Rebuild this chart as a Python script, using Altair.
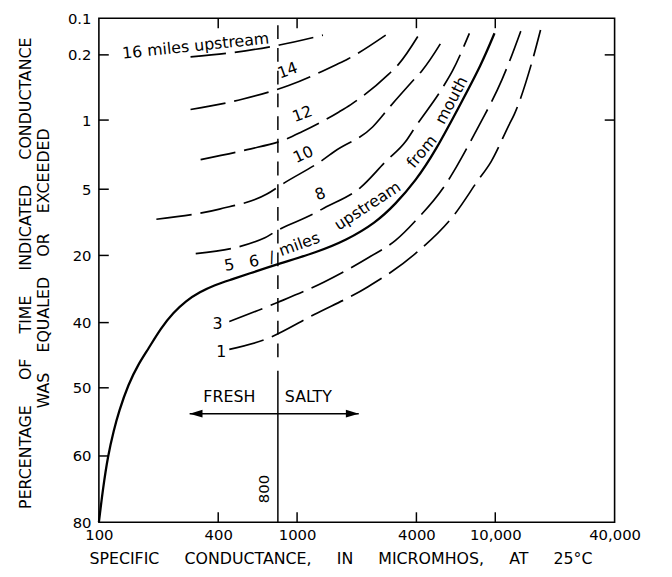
import altair as alt
import pandas as pd

# ---------------- axis ticks ----------------
x_ticks = [100, 400, 1000, 4000, 10000, 40000]
x_tick_labels = ["100", "400", "1000", "4000", "10,000", "40,000"]
y_ticks = [0.1, 0.2, 1, 5, 20, 40, 50, 60, 80]
y_tick_labels = ["0.1", "0.2", "1", "5", "20", "40", "50", "60", "80"]

# inward frame ticks
left_ticks = [0.2, 1, 5, 20, 40, 50, 60]
right_ticks = [0.2, 1]
top_ticks = [400, 1000, 4000, 10000]
bottom_ticks = [400, 1000, 4000, 10000]

# ---------------- curves (specific conductance, percent of time) ----------------
c16_x = [290, 455, 815, 1350]
c16_y = [0.225, 0.195, 0.173, 0.146]

c14_x = [290, 528, 906, 1574, 1804, 2800]
c14_y = [0.87, 0.745, 0.576, 0.32, 0.25, 0.146]

c12_x = [326, 560, 886, 1052, 1627, 1867, 2890, 3240, 4170]
c12_y = [3.29, 2.71, 2.09, 1.69, 0.90, 0.81, 0.44, 0.32, 0.14]

c10_x = [195, 406, 704, 855, 1354, 1537, 2404, 2955, 3848, 4267, 5576]
c10_y = [11.8, 9.5, 6.1, 4.66, 3.29, 2.83, 1.40, 0.83, 0.515, 0.394, 0.149]

c8_x = [308, 688, 790, 1207, 1370, 2094, 2797, 3520, 3949, 5430, 6090, 7400]
c8_y = [19.6, 16.0, 14.4, 10.6, 9.25, 4.89, 3.4, 2.26, 1.40, 0.60, 0.394, 0.141]

c56_x = [100, 105, 111, 119, 126, 141, 158, 177, 206, 237, 275, 323, 383, 471, 560, 817,
         1251, 1766, 2493, 3138, 3949, 4970, 6752, 8500, 9908]
c56_y = [80, 69.6, 60, 56.2, 53.5, 49.4, 46.4, 44.1, 40.8, 37.1, 33.5, 30.9, 28.8, 27.1,
         25.6, 22.4, 19.3, 16.6, 12.6, 8.36, 4.54, 2.83, 0.78, 0.321, 0.141]

c3_x = [455, 790, 1370, 2296, 3138, 3949, 5750, 6377, 8300, 8832, 10810, 11450, 13450]
c3_y = [39.7, 34.1, 27.9, 20.6, 16.6, 12.2, 4.54, 3.69, 1.29, 0.94, 0.503, 0.358, 0.135]

c1_x = [455, 688, 1221, 2270, 3949, 6255, 8120, 9530, 11720, 12470, 15260, 16920]
c1_y = [44.1, 42.6, 37.6, 29.4, 19.6, 10.6, 4.54, 3.4, 1.29, 0.93, 0.30, 0.132]

# fresh / salty boundary
boundary = 800
boundary_dash_y = [0.119, 45.3]
boundary_solid_y = [47.4, 80]
arrow_x = [287, 2047]
arrow_y = 53.8

# labels
lab_text = ["16 miles upstream", "14", "12", "10", "8", "5", "6", "/", "miles",
            "upstream", "from", "mouth", "3", "1"]
lab_x = [308, 896, 1064, 1076, 1308, 455, 606, 745, 1028, 2270, 4267, 6020, 397, 415]
lab_y = [0.176, 0.394, 0.927, 3.0, 6.1, 22.9, 21.8, 20.6, 17.5, 8.8, 2.83, 0.758, 40.3, 44.5]
lab_angle = [354, 340, 340, 335, 340, 350, 350, 345, 340, 327, 310, 298, 0, 0]

fs_text = ["FRESH", "SALTY"]
fs_x = [455, 1140]
fs_y = [51.3, 51.3]

GAP = "\u00a0" * 5
x_title = GAP.join(["SPECIFIC", "CONDUCTANCE,", "IN", "MICROMHOS,", "AT", "25°C"])
y_title_1 = GAP.join(["PERCENTAGE", "OF", "TIME", "INDICATED", "CONDUCTANCE"])
y_title_2 = ("\u00a0" * 4).join(["WAS", "EQUALED", "OR", "EXCEEDED"])

# ---------------- build tables ----------------
series = [("16", c16_x, c16_y), ("14", c14_x, c14_y), ("12", c12_x, c12_y),
          ("10", c10_x, c10_y), ("8", c8_x, c8_y), ("3", c3_x, c3_y), ("1", c1_x, c1_y)]
rows = []
for name, xs, ys in series:
    for a, b in zip(xs, ys):
        rows.append({"series": name, "x": a, "y": b})
dashed_df = pd.DataFrame(rows)
solid_df = pd.DataFrame({"x": c56_x, "y": c56_y})

FONT = "DejaVu Sans"


def expr_map(vals, labels):
    parts = " : ".join(f"datum.value == {v} ? '{l}'" for v, l in zip(vals, labels))
    return parts + " : ''"


x_scale = alt.Scale(type="log", domain=[100, 40000], nice=False)
y_scale = alt.Scale(type="linear", domain=y_ticks,
                    range=[0, 37, 103, 173, 240, 308, 374, 443, 510],
                    nice=False, zero=False)

x_axis = alt.Axis(values=x_ticks, labelExpr=expr_map(x_ticks, x_tick_labels), ticks=False,
                  tickSize=0, domain=False, grid=False, labelPadding=6, labelFlush=False,
                  labelOverlap=False, labelFontSize=15, labelFont=FONT, labelColor="black",
                  title=None)
y_axis = alt.Axis(values=y_ticks, labelExpr=expr_map(y_ticks, y_tick_labels), ticks=False,
                  tickSize=0, domain=False, grid=False, labelPadding=8, labelFlush=False,
                  labelOverlap=False, labelFontSize=15, labelFont=FONT, labelColor="black",
                  title=None)


def X(f="x"):
    return alt.X(f"{f}:Q", scale=x_scale, axis=x_axis)


def Y(f="y"):
    return alt.Y(f"{f}:Q", scale=y_scale, axis=y_axis)


dashed = alt.Chart(dashed_df).mark_line(
    color="black", strokeWidth=1.7, strokeDash=[36, 9], interpolate="monotone"
).encode(x=X(), y=Y(), detail="series:N")

solid = alt.Chart(solid_df).mark_line(
    color="black", strokeWidth=2.3, interpolate="basis"
).encode(x=X(), y=Y())

bdash = alt.Chart(pd.DataFrame({"x": [boundary], "y": [boundary_dash_y[0]], "y2": [boundary_dash_y[1]]})).mark_rule(
    color="black", strokeWidth=1.5, strokeDash=[14, 9]
).encode(x=X(), y=Y(), y2="y2:Q")

bsolid = alt.Chart(pd.DataFrame({"x": [boundary], "y": [boundary_solid_y[0]], "y2": [boundary_solid_y[1]]})).mark_rule(
    color="black", strokeWidth=1.5
).encode(x=X(), y=Y(), y2="y2:Q")

arrow = alt.Chart(pd.DataFrame({"x": [arrow_x[0]], "x2": [arrow_x[1]], "y": [arrow_y]})).mark_rule(
    color="black", strokeWidth=1.5
).encode(x=X(), x2="x2:Q", y=Y())

head_l = alt.Chart(pd.DataFrame({"x": [arrow_x[0]], "y": [arrow_y]})).mark_point(
    shape="M0,0L2,-0.6L2,0.6Z", size=169, filled=True, color="black", opacity=1
).encode(x=X(), y=Y())
head_r = alt.Chart(pd.DataFrame({"x": [arrow_x[1]], "y": [arrow_y]})).mark_point(
    shape="M0,0L-2,-0.6L-2,0.6Z", size=169, filled=True, color="black", opacity=1
).encode(x=X(), y=Y())

lab_df = pd.DataFrame({"t": lab_text, "x": lab_x, "y": lab_y, "a": lab_angle})
labels = alt.Chart(lab_df).mark_text(
    font=FONT, fontSize=16, color="black", align="center", baseline="middle"
).encode(x=X(), y=Y(), text="t:N", angle=alt.Angle("a:Q", scale=None))

fs = alt.Chart(pd.DataFrame({"t": fs_text, "x": fs_x, "y": fs_y})).mark_text(
    font=FONT, fontSize=16, color="black", align="center", baseline="middle"
).encode(x=X(), y=Y(), text="t:N")

b_label = alt.Chart(pd.DataFrame({"t": [str(boundary)], "x": [boundary], "y": [70]})).mark_text(
    font=FONT, fontSize=15, color="black", angle=270, dy=-14, align="center", baseline="middle"
).encode(x=X(), y=Y(), text="t:N")

# inward frame ticks
t_left = alt.Chart(pd.DataFrame({"y": left_ticks})).mark_rule(color="black", strokeWidth=1.5).encode(
    y=Y(), x=alt.value(0), x2=alt.value(10))
t_right = alt.Chart(pd.DataFrame({"y": right_ticks})).mark_rule(color="black", strokeWidth=1.5).encode(
    y=Y(), x=alt.value(512), x2=alt.value(522))
t_top = alt.Chart(pd.DataFrame({"x": top_ticks})).mark_rule(color="black", strokeWidth=1.5).encode(
    x=X(), y=alt.value(0), y2=alt.value(10))
t_bottom = alt.Chart(pd.DataFrame({"x": bottom_ticks})).mark_rule(color="black", strokeWidth=1.5).encode(
    x=X(), y=alt.value(500), y2=alt.value(510))

# axis titles
xt = alt.Chart(pd.DataFrame({"t": [x_title]})).mark_text(
    font=FONT, fontSize=16, color="black", align="center", baseline="middle"
).encode(text="t:N", x=alt.value(245), y=alt.value(547))
yt1 = alt.Chart(pd.DataFrame({"t": [y_title_1]})).mark_text(
    font=FONT, fontSize=16, color="black", align="center", baseline="middle", angle=270
).encode(text="t:N", x=alt.value(-74), y=alt.value(258))
yt2 = alt.Chart(pd.DataFrame({"t": [y_title_2]})).mark_text(
    font=FONT, fontSize=16, color="black", align="center", baseline="middle", angle=270
).encode(text="t:N", x=alt.value(-55), y=alt.value(253))

chart = alt.layer(
    dashed, solid, bdash, bsolid, arrow, head_l, head_r, labels, fs, b_label,
    t_left, t_right, t_top, t_bottom, xt, yt1, yt2
).properties(
    width=522, height=510,
    autosize=alt.AutoSizeParams(type="none"),
    padding={"left": 92, "top": 7, "right": 50, "bottom": 47},
    background="white",
).configure_view(
    stroke="black", strokeWidth=1.6
)

chart.save("out.html", embed_options={"renderer": "svg", "actions": False})
